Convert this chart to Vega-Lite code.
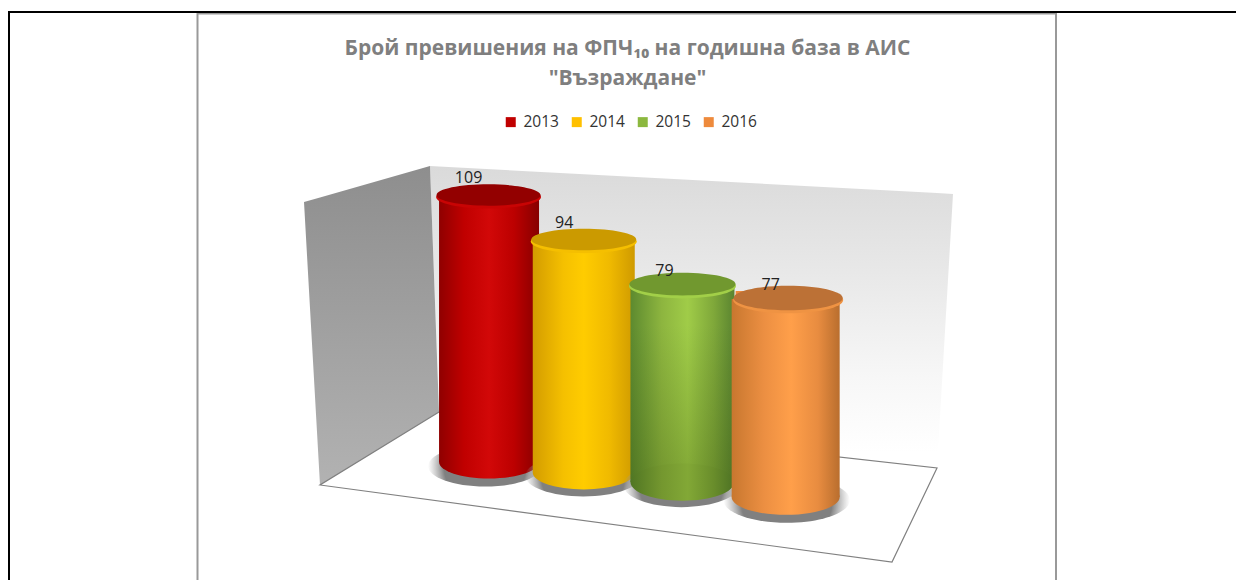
{"$schema":"https://vega.github.io/schema/vega-lite/v6.json","width":1236,"height":580,"autosize":"none","padding":0,"background":"white",
"title":{"text":["Брой превишения на ФПЧ₁₀ на годишна база в АИС","\"Възраждане\""],"anchor":"middle","frame":"group","dx":9.5,"offset":-89,"font":"Open Sans","fontSize":21,"fontWeight":"bold","color":"#7f7f7f","lineHeight":30},
"datasets":{"rows":[{"year":2013,"count":109},{"year":2014,"count":94},{"year":2015,"count":79},{"year":2016,"count":77}],
"backWall":[{"x":430,"y":166,"y2":166},{"x":439,"y":166.5,"y2":412},{"x":937,"y":193,"y2":468},{"x":953,"y":194,"y2":194}],
"sideWall":[{"x":304,"y":202,"y2":202},{"x":320,"y":197.4,"y2":485},{"x":430,"y":166,"y2":417.5},{"x":439,"y":412,"y2":412}],
"floor":[{"x":439,"y":412,"o":1},{"x":320,"y":485,"o":2},{"x":892,"y":562,"o":3},{"x":937,"y":468,"o":4},{"x":439,"y":412,"o":5}],
"frameGray":[{"x":197.5,"x2":197.5,"y":13,"y2":580},{"x":1056,"x2":1056,"y":13,"y2":580},{"x":197.5,"x2":1056,"y":13.5,"y2":13.5}],
"frameBlack":[{"x":8,"x2":1236,"y":12,"y2":12},{"x":9,"x2":9,"y":12,"y2":580}]},
"resolve":{"scale":{"x":"independent","y":"independent"}},
"layer":[
{"data":{"name":"backWall"},"mark":{"type":"area","fill":{"gradient":"linear","x1":0,"y1":0,"x2":0,"y2":1,"stops":[{"offset":0,"color":"#dadada"},{"offset":0.35,"color":"#e8e8e8"},{"offset":0.7,"color":"#f7f7f7"},{"offset":0.95,"color":"#ffffff"},{"offset":1,"color":"#ffffff"}]}},"encoding":{"x":{"field":"x","type":"quantitative","scale":{"domain":[0,1236]},"axis":null},"y":{"field":"y","type":"quantitative","scale":{"domain":[580,0]},"axis":null},"y2":{"field":"y2"}}},
{"data":{"name":"sideWall"},"mark":{"type":"area","fill":{"gradient":"linear","x1":0,"y1":0,"x2":0,"y2":1,"stops":[{"offset":0,"color":"#8e8e8e"},{"offset":1,"color":"#b2b2b2"}]}},"encoding":{"x":{"field":"x","type":"quantitative","scale":{"domain":[0,1236]},"axis":null},"y":{"field":"y","type":"quantitative","scale":{"domain":[580,0]},"axis":null},"y2":{"field":"y2"}}},
{"data":{"name":"floor"},"mark":{"type":"line","stroke":"#808080","strokeWidth":1.2},"encoding":{"x":{"field":"x","type":"quantitative","scale":{"domain":[0,1236]},"axis":null},"y":{"field":"y","type":"quantitative","scale":{"domain":[580,0]},"axis":null},"order":{"field":"o"}}},
{"data":{"name":"frameGray"},"mark":{"type":"rule","stroke":"#999999","strokeWidth":2},"encoding":{"x":{"field":"x","type":"quantitative","scale":{"domain":[0,1236]},"axis":null},"x2":{"field":"x2"},"y":{"field":"y","type":"quantitative","scale":{"domain":[580,0]},"axis":null},"y2":{"field":"y2"}}},
{"data":{"name":"frameBlack"},"mark":{"type":"rule","stroke":"#000000","strokeWidth":2},"encoding":{"x":{"field":"x","type":"quantitative","scale":{"domain":[0,1236]},"axis":null},"x2":{"field":"x2"},"y":{"field":"y","type":"quantitative","scale":{"domain":[580,0]},"axis":null},"y2":{"field":"y2"}}},
{"data":{"name":"rows"},
"encoding":{"x":{"field":"year","type":"quantitative","scale":{"domain":[2008.0204,2020.6327]},"axis":null},"y":{"field":"count","type":"quantitative","scale":{"domain":[-20.29,175],"zero":false},"axis":null}},
"layer":[
{"mark":{"type":"bar","width":90},"encoding":{"y2":{"datum":20},"color":{"field":"year","type":"nominal","scale":{"domain":[2013,2014,2015,2016],"range":["#c00000","#ffc000","#8cb83f","#ee8a3c"]},"legend":{"title":null,"orient":"none","legendX":503,"legendY":114,"direction":"horizontal","columns":4,"symbolType":"square","symbolSize":100,"symbolStrokeWidth":0,"symbolOpacity":1,"labelFont":"Open Sans","labelFontSize":15.5,"labelColor":"#333333","labelOffset":5,"columnPadding":10,"padding":0}}}},

{"transform":[{"filter":"datum.year==2013"}],"mark":{"type":"point","filled":true,"opacity":1,"size":13000,"xOffset":-4,"yOffset":270,"shape":"M-1,0A1,0.36,0,1,1,1,0A1,0.36,0,1,1,-1,0Z","fill":{"gradient":"radial","x1":0.5,"y1":0.5,"r1":0,"x2":0.5,"y2":0.5,"r2":0.5,"stops":[{"offset":0.72,"color":"#808080"},{"offset":1,"color":"rgba(160,160,160,0)"}]}}},
{"transform":[{"filter":"datum.year==2013"}],"mark":{"type":"bar","width":100,"fill":{"gradient":"linear","x1":0,"y1":0,"x2":1,"y2":0,"stops":[{"offset":0,"color":"#8f0000"},{"offset":0.25,"color":"#c00000"},{"offset":0.5,"color":"#d20808"},{"offset":0.75,"color":"#bc0000"},{"offset":1,"color":"#860000"}]}},"encoding":{"y2":{"datum":19.44}}},
{"transform":[{"filter":"datum.year==2013"}],"mark":{"type":"point","filled":true,"opacity":1,"size":10000,"yOffset":266,"shape":"M-1,0A1,0.33,0,1,1,1,0A1,0.33,0,1,1,-1,0Z","fill":{"gradient":"linear","x1":0,"y1":0,"x2":1,"y2":0,"stops":[{"offset":0,"color":"#8f0000"},{"offset":0.25,"color":"#c00000"},{"offset":0.5,"color":"#d20808"},{"offset":0.75,"color":"#bc0000"},{"offset":1,"color":"#860000"}]}}},
{"transform":[{"filter":"datum.year==2013"}],"mark":{"type":"point","filled":true,"opacity":1,"size":11000,"xOffset":-0.5,"yOffset":1,"shape":"M-1,0A1,0.22,0,1,1,1,0A1,0.22,0,1,1,-1,0Z","fill":"#c80404"}},
{"transform":[{"filter":"datum.year==2013"}],"mark":{"type":"point","filled":true,"opacity":1,"size":10800,"xOffset":-0.5,"yOffset":-1,"shape":"M-1,0A1,0.205,0,1,1,1,0A1,0.205,0,1,1,-1,0Z","fill":"#930000"}},

{"transform":[{"filter":"datum.year==2014"}],"mark":{"type":"point","filled":true,"opacity":1,"size":13500,"xOffset":-3,"yOffset":235,"shape":"M-1,0A1,0.36,0,1,1,1,0A1,0.36,0,1,1,-1,0Z","fill":{"gradient":"radial","x1":0.5,"y1":0.5,"r1":0,"x2":0.5,"y2":0.5,"r2":0.5,"stops":[{"offset":0.72,"color":"#808080"},{"offset":1,"color":"rgba(160,160,160,0)"}]}}},
{"transform":[{"filter":"datum.year==2014"}],"mark":{"type":"bar","width":102,"xOffset":-2.5,"fill":{"gradient":"linear","x1":0,"y1":0,"x2":1,"y2":0,"stops":[{"offset":0,"color":"#d39c00"},{"offset":0.3,"color":"#f5c000"},{"offset":0.5,"color":"#ffcc00"},{"offset":0.75,"color":"#f0ba00"},{"offset":1,"color":"#cf9a00"}]}},"encoding":{"y2":{"datum":16.07}}},
{"transform":[{"filter":"datum.year==2014"}],"mark":{"type":"point","filled":true,"opacity":1,"size":10404,"xOffset":-2.5,"yOffset":232,"shape":"M-1,0A1,0.33,0,1,1,1,0A1,0.33,0,1,1,-1,0Z","fill":{"gradient":"linear","x1":0,"y1":0,"x2":1,"y2":0,"stops":[{"offset":0,"color":"#d39c00"},{"offset":0.3,"color":"#f5c000"},{"offset":0.5,"color":"#ffcc00"},{"offset":0.75,"color":"#f0ba00"},{"offset":1,"color":"#cf9a00"}]}}},
{"transform":[{"filter":"datum.year==2014"}],"mark":{"type":"point","filled":true,"opacity":1,"size":11236,"xOffset":-2.5,"yOffset":1,"shape":"M-1,0A1,0.22,0,1,1,1,0A1,0.22,0,1,1,-1,0Z","fill":"#f5bf00"}},
{"transform":[{"filter":"datum.year==2014"}],"mark":{"type":"point","filled":true,"opacity":1,"size":11000,"xOffset":-2.5,"yOffset":-1,"shape":"M-1,0A1,0.205,0,1,1,1,0A1,0.205,0,1,1,-1,0Z","fill":"#cb9a00"}},

{"transform":[{"filter":"datum.year==2015"}],"mark":{"type":"point","filled":true,"opacity":1,"size":13500,"xOffset":-2,"yOffset":200,"shape":"M-1,0A1,0.38,0,1,1,1,0A1,0.38,0,1,1,-1,0Z","fill":{"gradient":"radial","x1":0.5,"y1":0.5,"r1":0,"x2":0.5,"y2":0.5,"r2":0.5,"stops":[{"offset":0.72,"color":"#808080"},{"offset":1,"color":"rgba(160,160,160,0)"}]}}},
{"transform":[{"filter":"datum.year==2015"}],"mark":{"type":"bar","width":104,"xOffset":-1,"fill":{"gradient":"linear","x1":0,"y1":0,"x2":1,"y2":0,"stops":[{"offset":0,"color":"#5d8a2f"},{"offset":0.3,"color":"#8db53f"},{"offset":0.55,"color":"#a0cc48"},{"offset":0.8,"color":"#7fa83a"},{"offset":1,"color":"#5a8430"}]}},"encoding":{"y2":{"datum":12.7}}},
{"transform":[{"filter":"datum.year==2015"}],"mark":{"type":"bar","width":104,"xOffset":-1,"fill":{"gradient":"linear","x1":0,"y1":0,"x2":0,"y2":1,"stops":[{"offset":0.2,"color":"rgba(40,60,0,0)"},{"offset":1,"color":"rgba(40,60,0,0.25)"}]}},"encoding":{"y2":{"datum":12.7}}},
{"transform":[{"filter":"datum.year==2015"}],"mark":{"type":"point","filled":true,"opacity":1,"size":10816,"xOffset":-1,"yOffset":197,"shape":"M-1,0A1,0.36,0,1,1,1,0A1,0.36,0,1,1,-1,0Z","fill":{"gradient":"linear","x1":0,"y1":0,"x2":1,"y2":0,"stops":[{"offset":0,"color":"#507623"},{"offset":0.3,"color":"#74972f"},{"offset":0.55,"color":"#82a836"},{"offset":0.8,"color":"#698d2b"},{"offset":1,"color":"#4d7224"}]}}},
{"transform":[{"filter":"datum.year==2015"}],"mark":{"type":"point","filled":true,"opacity":1,"size":11449,"xOffset":-1,"yOffset":1,"shape":"M-1,0A1,0.23,0,1,1,1,0A1,0.23,0,1,1,-1,0Z","fill":"#a2cf48"}},
{"transform":[{"filter":"datum.year==2015"}],"mark":{"type":"point","filled":true,"opacity":1,"size":11250,"xOffset":-1,"yOffset":-1,"shape":"M-1,0A1,0.215,0,1,1,1,0A1,0.215,0,1,1,-1,0Z","fill":"#71982f"}},

{"transform":[{"filter":"datum.year==2016"}],"mark":{"type":"point","filled":true,"opacity":1,"size":16000,"xOffset":6,"yOffset":209,"shape":"M-1,0A1,0.36,0,1,1,1,0A1,0.36,0,1,1,-1,0Z","fill":{"gradient":"radial","x1":0.5,"y1":0.5,"r1":0,"x2":0.5,"y2":0.5,"r2":0.5,"stops":[{"offset":0.72,"color":"#808080"},{"offset":1,"color":"rgba(160,160,160,0)"}]}}},
{"transform":[{"filter":"datum.year==2016"}],"mark":{"type":"bar","width":108,"xOffset":5,"yOffset":8,"fill":{"gradient":"linear","x1":0,"y1":0,"x2":1,"y2":0,"stops":[{"offset":0,"color":"#c8772f"},{"offset":0.3,"color":"#ec8f42"},{"offset":0.55,"color":"#ff9f4a"},{"offset":0.8,"color":"#e88c40"},{"offset":1,"color":"#b96e2e"}]}},"encoding":{"y2":{"datum":7.65}}},
{"transform":[{"filter":"datum.year==2016"}],"mark":{"type":"point","filled":true,"opacity":1,"size":11664,"xOffset":5,"yOffset":206,"shape":"M-1,0A1,0.33,0,1,1,1,0A1,0.33,0,1,1,-1,0Z","fill":{"gradient":"linear","x1":0,"y1":0,"x2":1,"y2":0,"stops":[{"offset":0,"color":"#c8772f"},{"offset":0.3,"color":"#ec8f42"},{"offset":0.55,"color":"#ff9f4a"},{"offset":0.8,"color":"#e88c40"},{"offset":1,"color":"#b96e2e"}]}}},
{"transform":[{"filter":"datum.year==2016"}],"mark":{"type":"point","filled":true,"opacity":1,"size":12100,"xOffset":7.5,"yOffset":9,"shape":"M-1,0A1,0.24,0,1,1,1,0A1,0.24,0,1,1,-1,0Z","fill":"#ef9343"}},
{"transform":[{"filter":"datum.year==2016"}],"mark":{"type":"point","filled":true,"opacity":1,"size":11880,"xOffset":7.5,"yOffset":7,"shape":"M-1,0A1,0.225,0,1,1,1,0A1,0.225,0,1,1,-1,0Z","fill":"#bc7136"}},

{"transform":[{"filter":"datum.year==2013"}],"mark":{"type":"text","font":"Open Sans","fontSize":16,"color":"#222222","dx":-20.5,"dy":-18},"encoding":{"text":{"field":"count","type":"quantitative"}}},
{"transform":[{"filter":"datum.year==2014"}],"mark":{"type":"text","font":"Open Sans","fontSize":16,"color":"#222222","dx":-22,"dy":-17.5},"encoding":{"text":{"field":"count","type":"quantitative"}}},
{"transform":[{"filter":"datum.year==2015"}],"mark":{"type":"text","font":"Open Sans","fontSize":16,"color":"#222222","dx":-19,"dy":-14},"encoding":{"text":{"field":"count","type":"quantitative"}}},
{"transform":[{"filter":"datum.year==2016"}],"mark":{"type":"text","font":"Open Sans","fontSize":16,"color":"#222222","dx":-10,"dy":-6},"encoding":{"text":{"field":"count","type":"quantitative"}}}
]}
],
"config":{"view":{"stroke":null}}}
